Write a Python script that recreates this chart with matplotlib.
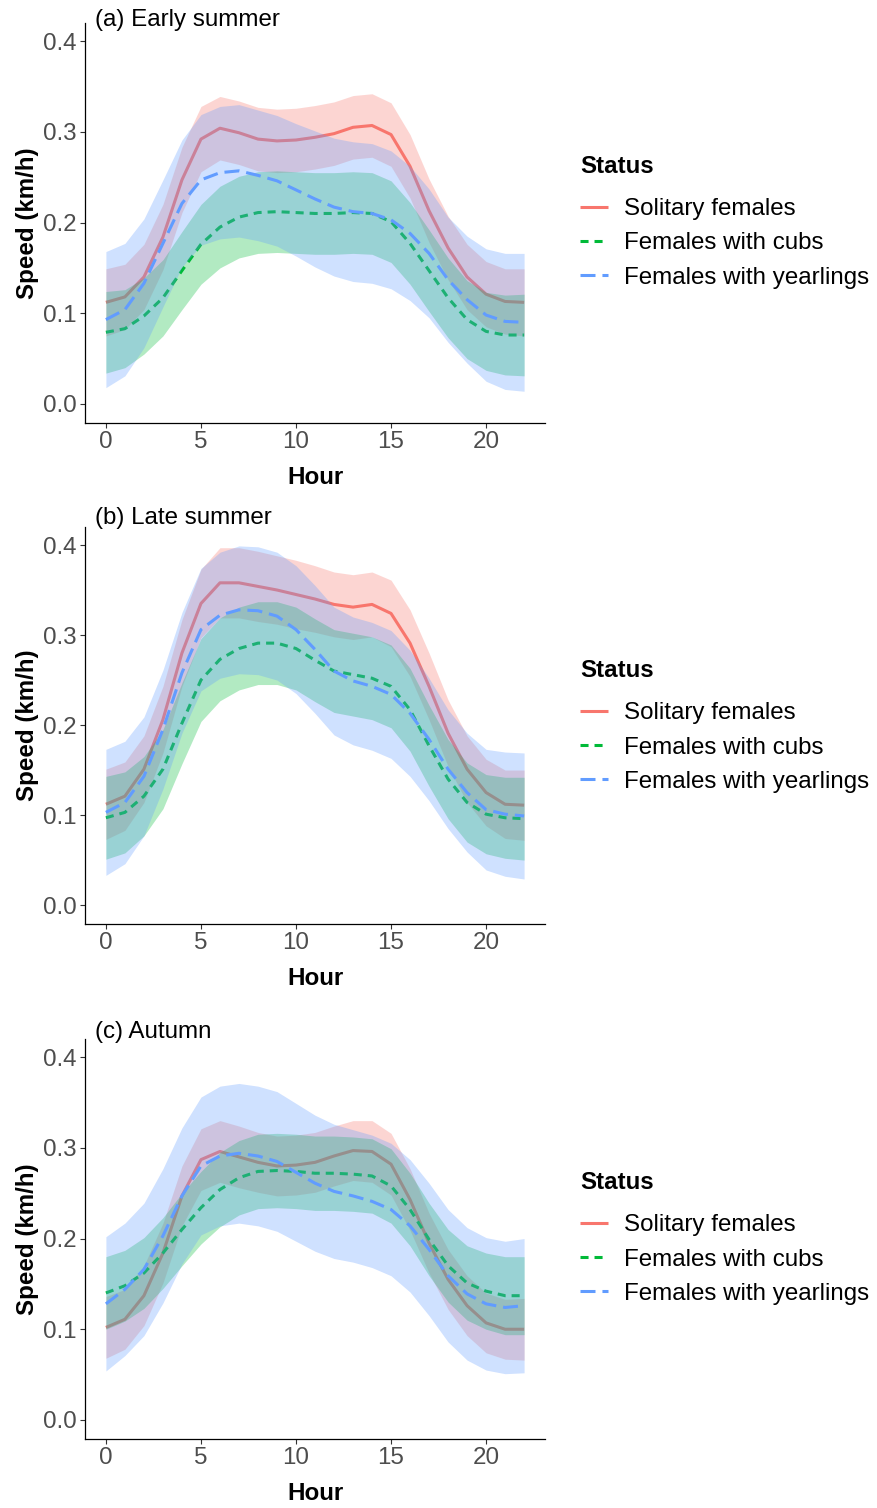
import matplotlib
matplotlib.use('Agg')
import matplotlib.pyplot as plt
import numpy as np

plt.rcParams['font.family'] = ['Liberation Sans', 'DejaVu Sans']
plt.rcParams['lines.scale_dashes'] = False

# ---------------- data ----------------
hours = list(range(23))
statuses = ['Solitary females', 'Females with cubs', 'Females with yearlings']
legend_title = 'Status'
panel_titles = ['(a) Early summer', '(b) Late summer', '(c) Autumn']
x_ticks = [0, 5, 10, 15, 20]
y_ticks = [0.0, 0.1, 0.2, 0.3, 0.4]
y_tick_labels = ['0.0', '0.1', '0.2', '0.3', '0.4']

# (a) Early summer
solitary_fit_a = [0.112, 0.118, 0.140, 0.184, 0.247, 0.292, 0.304, 0.299, 0.292, 0.290, 0.291, 0.294,
                  0.298, 0.305, 0.307, 0.297, 0.262, 0.213, 0.172, 0.140, 0.121, 0.113, 0.112]
solitary_hw_a = [0.037, 0.036, 0.036, 0.036, 0.036, 0.036, 0.035, 0.035, 0.035, 0.035, 0.035, 0.035,
                 0.035, 0.035, 0.035, 0.035, 0.035, 0.035, 0.035, 0.036, 0.036, 0.036, 0.037]
cubs_fit_a = [0.079, 0.083, 0.097, 0.117, 0.147, 0.176, 0.195, 0.206, 0.211, 0.212, 0.211, 0.210,
              0.210, 0.211, 0.210, 0.201, 0.177, 0.147, 0.117, 0.093, 0.080, 0.076, 0.076]
cubs_hw_a = [0.045, 0.043, 0.042, 0.042, 0.043, 0.044, 0.045, 0.045, 0.045, 0.045, 0.045, 0.045,
             0.045, 0.045, 0.045, 0.045, 0.045, 0.045, 0.044, 0.043, 0.043, 0.044, 0.045]
yearl_fit_a = [0.093, 0.104, 0.133, 0.177, 0.221, 0.247, 0.255, 0.257, 0.252, 0.246, 0.236, 0.226,
               0.217, 0.212, 0.210, 0.203, 0.188, 0.166, 0.137, 0.115, 0.098, 0.091, 0.090]
yearl_hw_a = [0.075, 0.073, 0.071, 0.070, 0.070, 0.072, 0.073, 0.073, 0.072, 0.072, 0.073, 0.075,
              0.076, 0.077, 0.077, 0.076, 0.074, 0.071, 0.069, 0.070, 0.073, 0.075, 0.076]

# (b) Late summer
solitary_fit_b = [0.112, 0.121, 0.151, 0.206, 0.280, 0.335, 0.358, 0.358, 0.354, 0.350, 0.345, 0.340,
                  0.334, 0.331, 0.334, 0.324, 0.291, 0.243, 0.191, 0.151, 0.125, 0.112, 0.111]
solitary_hw_b = [0.039, 0.038, 0.037, 0.037, 0.037, 0.038, 0.039, 0.039, 0.039, 0.038, 0.038, 0.037,
                 0.036, 0.036, 0.036, 0.037, 0.037, 0.037, 0.037, 0.037, 0.037, 0.038, 0.039]
cubs_fit_b = [0.097, 0.103, 0.121, 0.151, 0.202, 0.250, 0.273, 0.285, 0.291, 0.291, 0.285, 0.272,
              0.260, 0.256, 0.252, 0.243, 0.217, 0.177, 0.140, 0.114, 0.101, 0.097, 0.096]
cubs_hw_b = [0.046, 0.045, 0.044, 0.044, 0.045, 0.046, 0.046, 0.046, 0.046, 0.046, 0.046, 0.046,
             0.046, 0.046, 0.046, 0.046, 0.046, 0.045, 0.044, 0.044, 0.044, 0.045, 0.046]
yearl_fit_b = [0.103, 0.114, 0.143, 0.195, 0.258, 0.306, 0.322, 0.328, 0.327, 0.321, 0.306, 0.284,
               0.260, 0.249, 0.243, 0.234, 0.213, 0.184, 0.151, 0.125, 0.106, 0.101, 0.099]
yearl_hw_b = [0.070, 0.068, 0.066, 0.066, 0.067, 0.068, 0.070, 0.071, 0.071, 0.071, 0.071, 0.071,
              0.071, 0.071, 0.071, 0.071, 0.070, 0.068, 0.066, 0.066, 0.067, 0.069, 0.070]

# (c) Autumn
solitary_fit_c = [0.102, 0.111, 0.137, 0.184, 0.247, 0.287, 0.296, 0.290, 0.284, 0.280, 0.281, 0.284,
                  0.291, 0.297, 0.296, 0.282, 0.243, 0.195, 0.155, 0.126, 0.107, 0.100, 0.100]
solitary_hw_c = [0.034, 0.033, 0.033, 0.033, 0.033, 0.034, 0.034, 0.034, 0.033, 0.033, 0.033, 0.033,
                 0.033, 0.033, 0.034, 0.034, 0.034, 0.033, 0.033, 0.033, 0.033, 0.033, 0.034]
cubs_fit_c = [0.140, 0.148, 0.162, 0.184, 0.210, 0.234, 0.254, 0.267, 0.274, 0.275, 0.274, 0.272,
              0.272, 0.271, 0.269, 0.258, 0.232, 0.199, 0.170, 0.151, 0.142, 0.137, 0.137]
cubs_hw_c = [0.040, 0.039, 0.039, 0.039, 0.040, 0.040, 0.041, 0.041, 0.041, 0.041, 0.041, 0.041,
             0.041, 0.041, 0.041, 0.041, 0.040, 0.040, 0.040, 0.041, 0.042, 0.043, 0.043]
yearl_fit_c = [0.128, 0.144, 0.166, 0.203, 0.247, 0.280, 0.291, 0.294, 0.291, 0.285, 0.273, 0.261,
               0.252, 0.247, 0.241, 0.232, 0.214, 0.188, 0.159, 0.139, 0.128, 0.124, 0.126]
yearl_hw_c = [0.074, 0.073, 0.073, 0.074, 0.075, 0.076, 0.077, 0.077, 0.077, 0.077, 0.076, 0.075,
              0.074, 0.073, 0.073, 0.073, 0.073, 0.073, 0.073, 0.073, 0.073, 0.073, 0.074]

panels = [
    [(solitary_fit_a, solitary_hw_a), (cubs_fit_a, cubs_hw_a), (yearl_fit_a, yearl_hw_a)],
    [(solitary_fit_b, solitary_hw_b), (cubs_fit_b, cubs_hw_b), (yearl_fit_b, yearl_hw_b)],
    [(solitary_fit_c, solitary_hw_c), (cubs_fit_c, cubs_hw_c), (yearl_fit_c, yearl_hw_c)],
]

# ---------------- style ----------------
colors = ['#F8766D', '#00BA38', '#619CFF']
dash_styles = [None, (0, (5.8, 4.3)), (0, (10.8, 5.0))]
ribbon_alpha = 0.3
line_w = 2.2
FS = 17.4

W, H = 877, 1508
fig = plt.figure(figsize=(W / 100, H / 100), dpi=100)

# axes boxes in pixels: (left, top, right, bottom)
boxes = [(85, 23, 545, 423), (85, 527, 545, 924), (85, 1039, 545, 1439)]
title_baselines = [26, 524, 1038]

for i, (box, series) in enumerate(zip(boxes, panels)):
    l, t, r, b = box
    ax = fig.add_axes([l / W, 1 - b / H, (r - l) / W, (b - t) / H])
    handles = []
    for j, (fit, hw) in enumerate(series):
        fit_arr = np.array(fit)
        hw_arr = np.array(hw)
        ax.fill_between(hours, fit_arr - hw_arr, fit_arr + hw_arr, color=colors[j],
                        alpha=ribbon_alpha, linewidth=0, zorder=2 + 2 * j)
        ln, = ax.plot(hours, fit_arr, color=colors[j], linewidth=line_w, zorder=3 + 2 * j,
                      solid_capstyle='butt', dash_capstyle='butt', solid_joinstyle='round',
                      label=statuses[j])
        if dash_styles[j] is not None:
            ln.set_linestyle(dash_styles[j])
        handles.append(ln)

    ax.set_xlim(-1.1, 23.1)
    ax.set_ylim(-0.021, 0.42)
    ax.set_xticks(x_ticks)
    ax.set_xticklabels([str(v) for v in x_ticks])
    ax.set_yticks(y_ticks)
    ax.set_yticklabels(y_tick_labels)
    for s in ['top', 'right']:
        ax.spines[s].set_visible(False)
    for s in ['left', 'bottom']:
        ax.spines[s].set_color('black')
        ax.spines[s].set_linewidth(0.9)
    ax.tick_params(axis='both', length=3.6, width=0.8, color='#333333',
                   labelcolor='#4D4D4D', labelsize=FS, pad=2.5)
    ax.set_xlabel('Hour', fontsize=FS, fontweight='bold', labelpad=9.3)
    ax.set_ylabel('Speed (km/h)', fontsize=FS, fontweight='bold', labelpad=2.5)

    fig.text(95 / W, 1 - title_baselines[i] / H, panel_titles[i], fontsize=FS,
             ha='left', va='baseline', color='black')

    # legend title
    fig.text(580 / W, 1 - (t + 150) / H, legend_title, fontsize=FS, fontweight='bold',
             ha='left', va='baseline', color='black')
    leg = ax.legend(handles=handles, labels=statuses, loc='center left',
                    bbox_to_anchor=((580 - l) / (r - l), (b - (t + 220.5)) / (b - t)),
                    frameon=False, fontsize=FS, handlelength=1.17, handletextpad=0.66,
                    labelspacing=0.5, borderpad=0, borderaxespad=0)
    for lh in leg.get_lines():
        lh.set_linewidth(line_w)

fig.savefig('out.png', dpi=100)
